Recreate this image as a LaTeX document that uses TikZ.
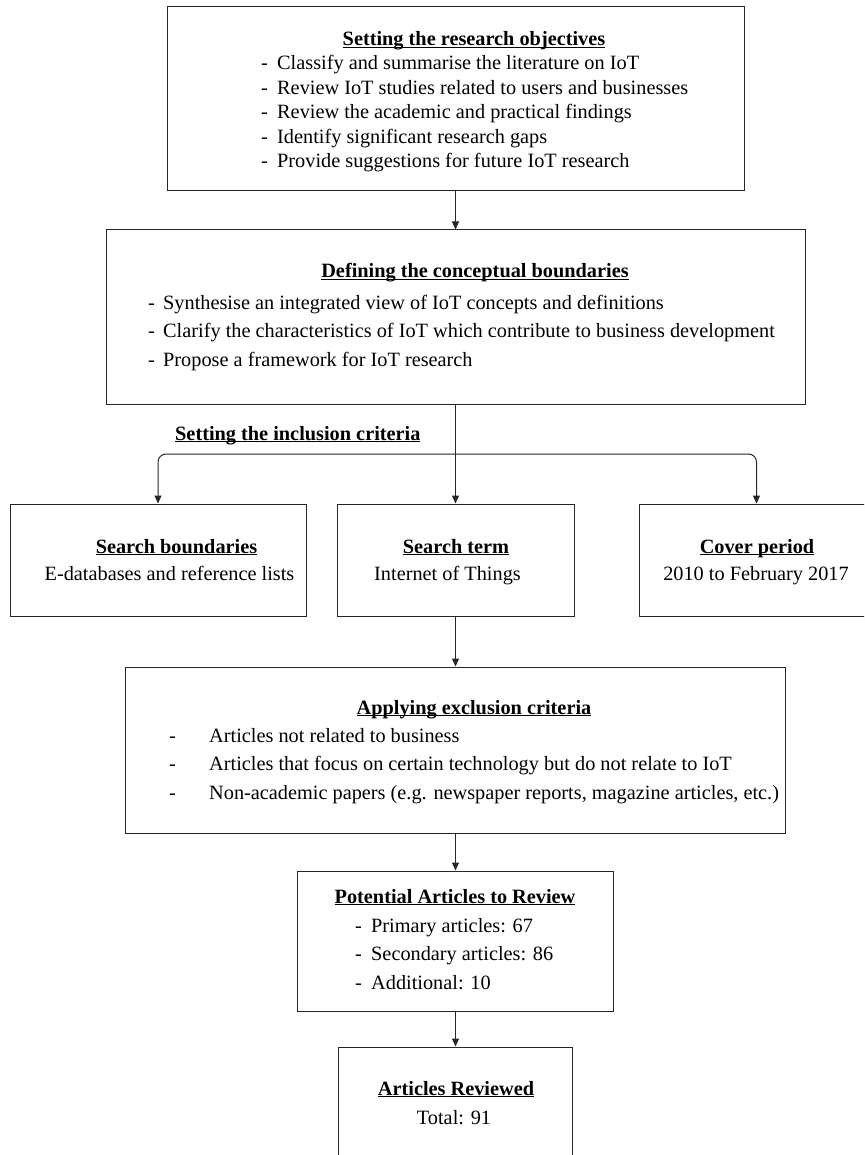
\documentclass[tikz,border=0pt]{standalone}
\usepackage{fontspec}
\setmainfont{Liberation Serif}
\usetikzlibrary{arrows.meta}
\newcommand{\boxhead}[1]{\underline{\smash{\textbf{#1}}}}

\begin{document}
\begin{tikzpicture}[x=1pt,y=-1pt,>={Triangle[length=8pt,width=7pt]},
    stage/.style={draw=black!85,line width=1pt,inner sep=0pt},
    link/.style={->,draw=black!85,line width=1pt},
    every node/.style={font=\fontsize{20.3}{28.5}\selectfont},
    head/.style={anchor=base,inner sep=0pt},
    list/.style={anchor=base west,inner sep=0pt}]
    \useasboundingbox (0,0) rectangle (864,1155);
    \clip (0,0) rectangle (864,1155);
    % boxes
    \node[stage,minimum width=577pt,minimum height=184pt] (goals) at (455.5,99) {};
    \node[stage,minimum width=699pt,minimum height=174pt] (concept) at (455.5,317) {};
    \node[stage,minimum width=296pt,minimum height=112pt] (bound) at (158,560) {};
    \node[stage,minimum width=237pt,minimum height=112pt] (term) at (455.5,560) {};
    \node[stage,minimum width=235pt,minimum height=112pt] (period) at (756.5,560) {};
    \node[stage,minimum width=660pt,minimum height=166pt] (exclude) at (455.5,750) {};
    \node[stage,minimum width=316pt,minimum height=140pt] (potential) at (455.5,941) {};
    \node[stage,minimum width=234pt,minimum height=140pt] (reviewed) at (455.5,1117) {};
    % texts
    \node[head] (goals-head) at (474,46) {\boxhead{Setting the research objectives}};
    \node[list,font=\fontsize{20.3}{24.5}\selectfont] (goals-list) at (261,70) {\begin{tabular}[t]{@{}l@{}}
      \makebox[16pt][l]{-}Classify and summarise the literature on IoT\\
      \makebox[16pt][l]{-}Review IoT studies related to users and businesses\\
      \makebox[16pt][l]{-}Review the academic and practical findings\\
      \makebox[16pt][l]{-}Identify significant research gaps\\
      \makebox[16pt][l]{-}Provide suggestions for future IoT research\end{tabular}};
    \node[head] (concept-head) at (475,278) {\boxhead{Defining the conceptual boundaries}};
    \node[list] (concept-list) at (148,309) {\begin{tabular}[t]{@{}l@{}}
      \makebox[15pt][l]{-}Synthesise an integrated view of IoT concepts and definitions\\
      \makebox[15pt][l]{-}Clarify the characteristics of IoT which contribute to business development\\
      \makebox[15pt][l]{-}Propose a framework for IoT research\end{tabular}};
    \node[anchor=base west,inner sep=0pt] (incl) at (175,440) {\boxhead{Setting the inclusion criteria}};
    \node[head] (bound-head) at (176.5,553) {\boxhead{Search boundaries}};
    \node[head] (bound-text) at (169.5,580) {E-databases and reference lists};
    \node[head] (term-head) at (456,553) {\boxhead{Search term}};
    \node[head] (term-text) at (447.5,580) {Internet of Things};
    \node[head] (period-head) at (757,553) {\boxhead{Cover period}};
    \node[head] (period-text) at (756,580) {2010 to February 2017};
    \node[head] (exclude-head) at (474,714) {\boxhead{Applying exclusion criteria}};
    \node[list] (exclude-list) at (169,742) {\begin{tabular}[t]{@{}l@{}}
      \makebox[40pt][l]{-}Articles not related to business\\
      \makebox[40pt][l]{-}Articles that focus on certain technology but do not relate to IoT\\
      \makebox[40pt][l]{-}Non-academic papers (e.g. newspaper reports, magazine articles, etc.)\end{tabular}};
    \node[head] (potential-head) at (455,903) {\boxhead{Potential Articles to Review}};
    \node[list] (potential-list) at (355,932) {\begin{tabular}[t]{@{}l@{}}
      \makebox[16pt][l]{-}Primary articles: 67\\
      \makebox[16pt][l]{-}Secondary articles: 86\\
      \makebox[16pt][l]{-}Additional: 10\end{tabular}};
    \node[head] (reviewed-head) at (456,1095) {\boxhead{Articles Reviewed}};
    \node[head] (reviewed-text) at (454,1124) {Total: 91};
    % connectors
    \draw[link] (goals.south) -- (concept.north);
    \draw[link] (concept.south) -- (term.north);
    \coordinate (fork) at (455.5,454);
    \draw[link,rounded corners=8pt] (fork) -| (bound.north);
    \draw[link,rounded corners=8pt] (fork) -| (period.north);
    \draw[link] (term.south) -- (exclude.north);
    \draw[link] (exclude.south) -- (potential.north);
    \draw[link] (potential.south) -- (reviewed.north);
\end{tikzpicture}
\end{document}
